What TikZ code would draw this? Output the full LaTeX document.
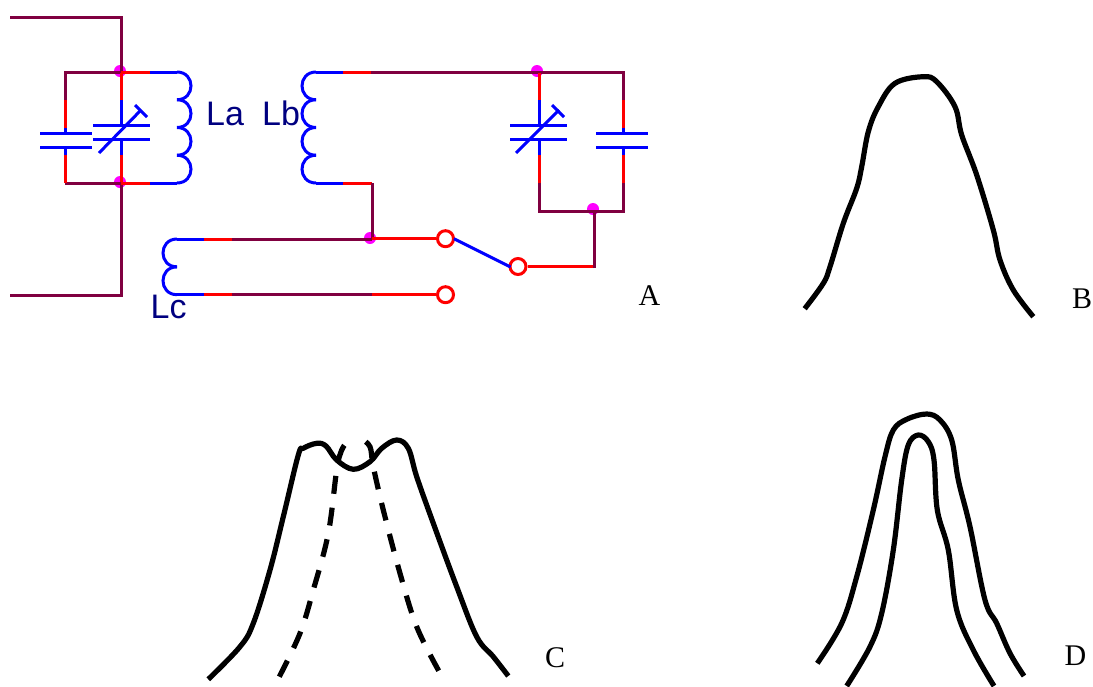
\documentclass[tikz,border=0pt]{standalone}
\usepackage{fontspec}
\setmainfont{Liberation Serif}
\newfontfamily\coilfont{Liberation Sans}
\definecolor{wdark}{HTML}{800040}
\definecolor{wred}{HTML}{FF0000}
\definecolor{wblue}{HTML}{0000FF}
\definecolor{wdot}{HTML}{FF00FF}
\definecolor{wnavy}{HTML}{000080}
\tikzset{
  dk/.style={draw=wdark,line width=3pt},
  rd/.style={draw=wred,line width=3pt},
  bl/.style={draw=wblue,line width=3pt},
  junction/.style={circle,fill=wdot,draw=none,minimum size=12pt,inner sep=0pt},
  terminal/.style={circle,draw=wred,fill=white,line width=3pt,minimum size=16pt,inner sep=0pt},
  coillabel/.style={text=wnavy,inner sep=0pt,anchor=base west,font=\coilfont\fontsize{34}{40}\selectfont},
  partlabel/.style={text=black,inner sep=0pt,anchor=base west,font=\fontsize{30}{36}\selectfont},
  curve/.style={draw=black,line width=5.2pt,line join=round},
  dashcurve/.style={curve,dash pattern=on 18pt off 14pt},
}
\begin{document}
\begin{tikzpicture}[x=1pt,y=-1pt]
\useasboundingbox (0,0) rectangle (1093,686);
\clip (0,0) rectangle (1093,686);
% junction dots (under the wires)
\node[junction] (j1) at (120,71) {};
\node[junction] (j2) at (120,182) {};
\node[junction] (j3) at (537,71) {};
\node[junction] (j4) at (593,209) {};
\node[junction] (j5) at (370,238) {};
% tank A: outer leads
\draw[dk] (10,17) -- (121,17) -- (121,72);
\draw[dk] (121,183) -- (121,295) -- (10,295);
% tank A: rails
\draw[dk] (65,100) -- (65,72) -- (121,72);
\draw[rd] (121,72) -- (150,72);
\draw[bl] (150,72) -- (177,72);
\draw[dk] (65,183) -- (121,183);
\draw[rd] (121,183) -- (150,183);
\draw[bl] (150,183) -- (177,183);
% tank A: fixed capacitor
\draw[rd] (65,100) -- (65,128);
\draw[bl] (65,128) -- (65,133);
\draw[bl] (40,133) -- (92,133);
\draw[bl] (40,147) -- (92,147);
\draw[bl] (65,147) -- (65,155);
\draw[rd] (65,155) -- (65,183);
% tank A: variable capacitor
\draw[rd] (121,73) -- (121,100);
\draw[bl] (121,100) -- (121,125);
\draw[bl] (93,125) -- (150,125);
\draw[bl] (93,139) -- (150,139);
\draw[bl] (121,139) -- (121,155);
\draw[rd] (121,155) -- (121,182);
\draw[bl] (99,153) -- (141,110);
\draw[bl] (135,105) -- (147,117);
% coil La
\foreach \y in {72,99.75,127.5,155.25}
  \draw[bl] (177,\y) .. controls (195.67,\y) and (195.67,\y+27.75) .. (177,\y+27.75);
% coil Lb
\foreach \y in {72,99.75,127.5,155.25}
  \draw[bl] (316,\y) .. controls (297.33,\y) and (297.33,\y+27.75) .. (316,\y+27.75);
\draw[bl] (316,72) -- (343,72);
\draw[rd] (343,72) -- (371,72);
\draw[dk] (371,72) -- (623,72) -- (623,100);
\draw[bl] (316,183) -- (343,183);
\draw[rd] (343,183) -- (372,183);
\draw[dk] (372,183) -- (372,239);
% tank B: variable capacitor
\draw[rd] (539,73) -- (539,100);
\draw[bl] (539,100) -- (539,125);
\draw[bl] (510,125) -- (567,125);
\draw[bl] (510,139) -- (567,139);
\draw[bl] (539,139) -- (539,155);
\draw[rd] (539,155) -- (539,183);
\draw[dk] (539,183) -- (539,211) -- (623,211) -- (623,183);
\draw[bl] (516,153) -- (559,110);
\draw[bl] (552,105) -- (564,117);
% tank B: fixed capacitor
\draw[rd] (623,100) -- (623,128);
\draw[bl] (623,128) -- (623,133);
\draw[bl] (596,133) -- (648,133);
\draw[bl] (596,147) -- (648,147);
\draw[bl] (623,147) -- (623,155);
\draw[rd] (623,155) -- (623,183);
% coil Lc
\foreach \y in {239,266.85}
  \draw[bl] (177,\y) .. controls (158.33,\y) and (158.33,\y+27.85) .. (177,\y+27.85);
\draw[bl] (177,239) -- (204,239);
\draw[rd] (204,239) -- (232,239);
\draw[dk] (232,239) -- (372,239);
\draw[bl] (177,294.7) -- (204,294.7);
\draw[rd] (204,294.7) -- (232,294.7);
\draw[dk] (232,294.7) -- (372,294.7);
% switch
\node[terminal] (t1) at (445.5,238.7) {};
\node[terminal] (t2) at (445.5,294.7) {};
\node[terminal] (t3) at (518,266.5) {};
\coordinate (s1) at (372,238.7);
\coordinate (s2) at (372,294.7);
\coordinate (s3) at (594.5,266.5);
\draw[rd] (s1) -- (t1);
\draw[rd] (s2) -- (t2);
\draw[rd] (t3) -- (s3);
\draw[dk] (594.5,268) -- (594.5,211);
\draw[bl] (454,238.7) -- (510.5,267);
% labels
\node[coillabel] (la) at (206,125) {La};
\node[coillabel] (lb) at (262,125) {Lb};
\node[coillabel] (lc) at (150.5,318) {Lc};
\node[partlabel] (pa) at (638.5,305) {A};
\node[partlabel] (pb) at (1072,308) {B};
\node[partlabel] (pc) at (545,667) {C};
\node[partlabel] (pd) at (1064.5,665) {D};
% curve B
\draw[curve] plot[smooth,tension=0.6] coordinates {
 (804.7,308.7) (823.3,283.3) (830,266.7) (843.3,223.3) (856.7,188.3) (861.7,166.7)
 (868.3,131.7) (878.3,106.7) (895,83.3) (923.3,76.7) (936.7,81.7) (955,106.7)
 (961.7,135) (976.7,175) (993.3,230) (1000,260) (1013.3,290) (1033.3,316.7)};
% curve C
\draw[curve] plot[smooth,tension=0.6] coordinates {
 (208.3,679.3) (240,646.7) (253.3,623.3) (270,570) (283.3,516.7) (298.3,455)
 (303.3,448.3) (316.7,443.3) (326,446) (336.7,460) (353.3,469.3) (370,461.7)
 (381.7,448.3) (396.7,440) (408.3,448.3) (416.7,476.7) (433.3,523.3) (456.7,586.7)
 (476.7,636.7) (493.3,656.7) (508.3,676)};
\draw[dashcurve] plot[smooth,tension=0.6] coordinates {
 (279.3,676.7) (300,633.3) (313.3,590) (328.3,533.3) (336.7,470) (341.7,450) (348.3,440.7)};
\draw[dashcurve] plot[smooth,tension=0.6] coordinates {
 (438.7,670.7) (416.7,626.7) (400,573.3) (383.3,510) (373.3,466.7) (370,446.7) (361.7,439.3)};
% curve D
\draw[curve] plot[smooth,tension=0.6] coordinates {
 (817.3,663.3) (841.7,623.3) (856.7,576.7) (873.3,510) (885,456.7) (893.3,430)
 (906.7,419.3) (926.7,414) (940,420) (951.7,440) (958.3,480) (970,526.7)
 (985,600) (996.7,623.3) (1010,653.3) (1024,676)};
\draw[curve] plot[smooth,tension=0.6] coordinates {
 (846.7,686) (870,646.7) (881.7,613.3) (893.3,550) (901.7,480) (908.3,445)
 (918.3,435) (928.3,441.7) (934,460) (937.3,510) (948.3,550) (956.7,610)
 (973.3,650) (994,686)};
\end{tikzpicture}
\end{document}
